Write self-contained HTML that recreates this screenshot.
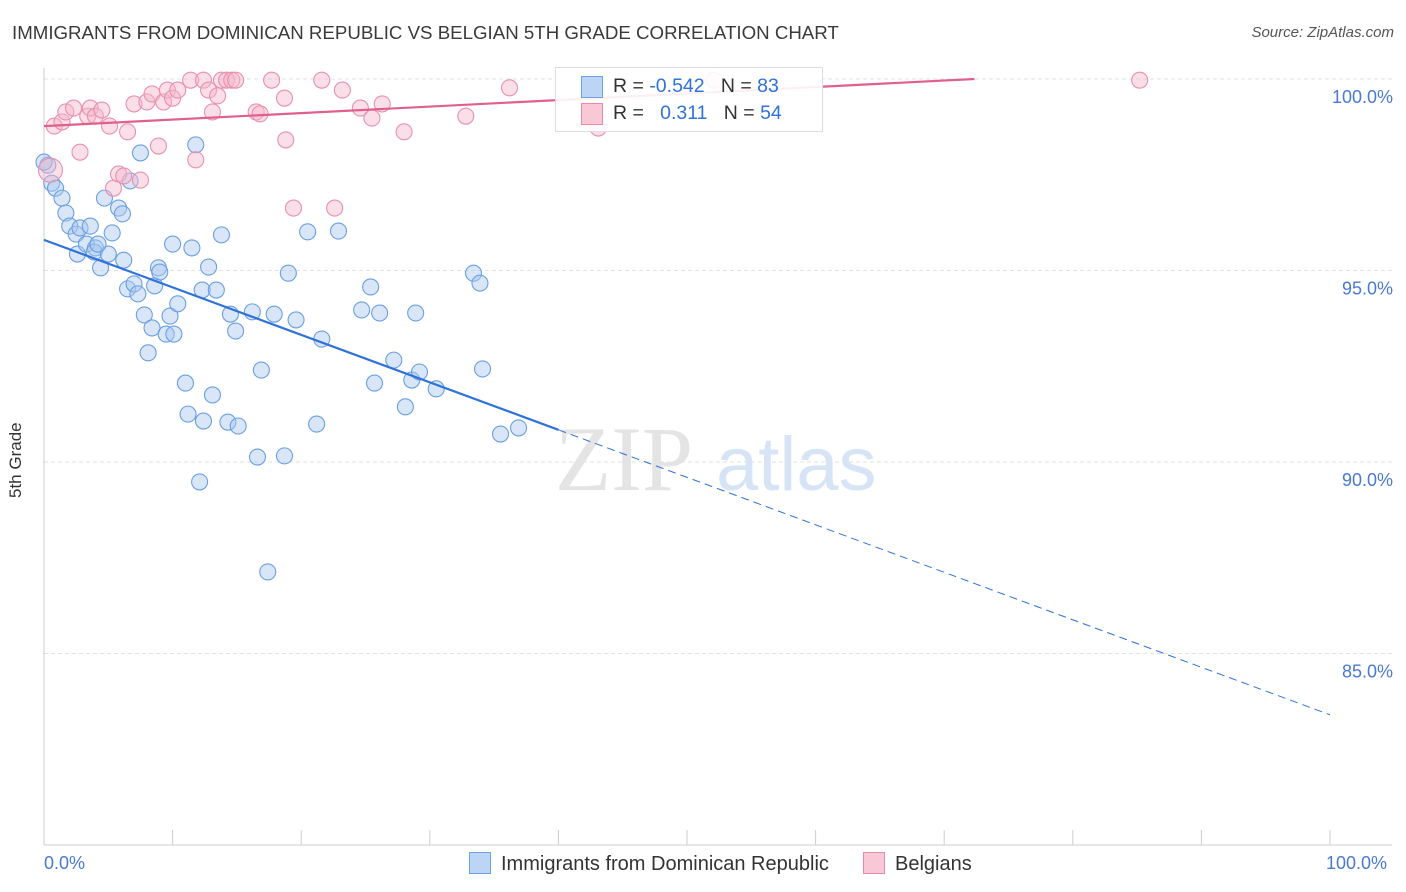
<!DOCTYPE html>
<html><head><meta charset="utf-8"><style>
body{margin:0;background:#fff;font-family:"Liberation Sans",sans-serif}
#c{position:relative;width:1406px;height:892px;overflow:hidden}
.t{position:absolute;white-space:nowrap}
</style></head><body>
<div id="c">
<div class="t" style="left:12px;top:22px;font-size:18.7px;color:#3a3a3a">IMMIGRANTS FROM DOMINICAN REPUBLIC VS BELGIAN 5TH GRADE CORRELATION CHART</div>
<div class="t" style="right:12px;top:24px;font-size:15px;color:#555;font-style:italic">Source: ZipAtlas.com</div>
<div class="t" style="left:6px;font-size:17px;color:#333;transform:rotate(-90deg);transform-origin:0 0;top:498px">5th Grade</div>
<svg id="s" width="1406" height="892" style="position:absolute;left:0;top:0"></svg>
</div>
<script>
const blueX=[0.3,0.6,0.9,1.4,1.7,2.0,2.5,2.8,2.6,3.3,3.6,4.0,3.9,4.4,4.7,5.0,5.3,5.8,6.1,6.2,6.5,6.7,7.0,7.3,7.5,7.8,8.1,8.4,8.6,8.9,9.0,9.5,9.8,10.0,10.1,10.4,11.0,11.2,11.5,11.8,12.1,12.3,12.4,12.8,13.1,13.4,13.8,14.3,14.5,14.9,15.1,16.2,16.6,16.9,17.4,17.9,18.7,19.0,19.6,20.5,21.2,21.6,22.9,24.7,25.4,25.7,26.1,27.2,28.1,28.6,28.9,29.2,30.5,33.4,33.9,34.1,35.5,36.9,0,4.2];
const blueY=[97.75,97.28,97.15,96.89,96.5,96.16,95.95,96.11,95.43,95.69,96.16,95.59,95.48,95.07,96.89,95.43,95.98,96.63,96.48,95.27,94.52,97.34,94.65,94.39,98.07,93.84,92.85,93.5,94.6,95.07,94.96,93.34,93.81,95.69,93.34,94.13,92.06,91.25,95.59,98.28,89.48,94.49,91.07,95.09,91.75,94.49,95.93,91.04,93.86,93.42,90.94,93.92,90.13,92.4,87.13,93.86,90.16,94.93,93.71,96.01,90.99,93.21,96.03,93.97,94.57,92.06,93.89,92.66,91.44,92.14,93.89,92.35,91.91,94.93,94.67,92.43,90.73,90.89,97.83,95.69];
const pinkX=[0.5,0.8,1.4,1.7,2.3,2.8,3.4,3.6,4.0,4.5,5.1,5.4,5.8,6.2,6.5,7.0,7.5,8.0,8.4,8.9,9.3,9.6,10.0,10.4,11.4,11.8,12.4,12.8,13.1,13.5,13.8,14.2,14.6,14.9,16.5,16.8,17.7,18.8,18.7,19.4,21.6,22.6,23.2,24.6,25.5,26.3,28.0,32.8,36.2,43.1,52.1,85.2];
const pinkY=[97.62,98.77,98.88,99.14,99.24,98.09,99.03,99.24,99.03,99.19,98.77,97.15,97.52,97.47,98.62,99.35,97.36,99.4,99.61,98.25,99.4,99.71,99.5,99.71,99.97,97.89,99.97,99.71,99.14,99.56,99.97,99.97,99.97,99.97,99.14,99.09,99.97,98.41,99.5,96.63,99.97,96.63,99.71,99.24,98.98,99.35,98.62,99.03,99.77,98.72,99.97,99.97];
const yTicks=[100,95,90,85];
const yTickLabels=["100.0%","95.0%","90.0%","85.0%"];
const blueTrend=[95.8,83.4];
const pinkTrend=[98.77,100.47];

const sx=v=>44+v*12.86, sy=v=>79+(100-v)*38.3;
const s=document.getElementById('s'),NS='http://www.w3.org/2000/svg';
function mk(t,a,p){const e=document.createElementNS(NS,t);for(const k in a)e.setAttribute(k,a[k]);(p||s).appendChild(e);return e;}
yTicks.forEach((v,i)=>{
 const g=mk('line',{x1:44,x2:1392,y1:sy(v),y2:sy(v),stroke:'#e2e2e2','stroke-dasharray':'4,3'});
 
 
 const t=mk('text',{x:1393,y:sy(v)+24,'text-anchor':'end','font-size':18,fill:'#4a7ad0','font-family':'Liberation Sans'});
 t.textContent=yTickLabels[i];
 
 
});
const ya=mk('line',{x1:44,x2:44,y1:68,y2:845,stroke:'#ccc'});
const xa=mk('line',{x1:44,x2:1392,y1:845,y2:845,stroke:'#ccc'});
for(let i=0;i<=10;i++){const tk=mk('line',{x1:sx(i*10),x2:sx(i*10),y1:830,y2:845,stroke:'#ccc'});}
const w=mk('text',{x:555,y:490,'font-size':92,fill:'#e4e4e4','font-family':'Liberation Serif'});w.textContent='ZIP';
const w2=mk('text',{x:716,y:490,'font-size':76,fill:'#d6e4f5','font-family':'Liberation Sans'});w2.textContent='atlas';
function pts(X,Y,f,st,nm){X.forEach((x,i)=>{const c=mk('circle',{cx:sx(x),cy:sy(Y[i]),r:(nm=='pink-point'&&i==0)?12:8,fill:f,'fill-opacity':0.45,stroke:st,'stroke-width':1.1});});}
pts(blueX,blueY,'#a9c8f0','#6a9fe2','blue-point');
pts(pinkX,pinkY,'#f5b8cb','#e890ad','pink-point');
const bAt=x=>blueTrend[0]+(blueTrend[1]-blueTrend[0])*x/100;
const b1=mk('line',{x1:sx(0),y1:sy(bAt(0)),x2:sx(40),y2:sy(bAt(40)),stroke:'#2f72d8','stroke-width':2.2});
const b2=mk('line',{x1:sx(40),y1:sy(bAt(40)),x2:sx(100),y2:sy(bAt(100)),stroke:'#2f72d8','stroke-width':1,'stroke-dasharray':'8,5'});
const pAt=x=>pinkTrend[0]+(pinkTrend[1]-pinkTrend[0])*x/100;
const xe=(100-pinkTrend[0])/(pinkTrend[1]-pinkTrend[0])*100;
const p1=mk('line',{x1:sx(0),y1:sy(pAt(0)),x2:sx(xe),y2:sy(100),stroke:'#e0608a','stroke-width':2.2});
</script>
<div class="t" style="left:555px;top:67px;width:266px;height:63px;border:1px solid #ddd;background:rgba(255,255,255,0.9);font-size:19.5px">
 <div class="t" style="left:25px;top:8px;width:20px;height:20px;background:#bcd5f5;border:1px solid #6fa0e0"></div>
 <div class="t" style="left:57px;top:7px;color:#333">R = <span style="color:#2f72d8">-0.542</span>&nbsp;&nbsp;&nbsp;N = <span style="color:#2f72d8">83</span></div>
 <div class="t" style="left:25px;top:35px;width:20px;height:20px;background:#f8c8d6;border:1px solid #e88aa8"></div>
 <div class="t" style="left:57px;top:34px;color:#333">R = &nbsp;&nbsp;<span style="color:#2f72d8">0.311</span>&nbsp;&nbsp;&nbsp;N = <span style="color:#2f72d8">54</span></div>
</div>
<div class="t" style="left:44px;top:853px;font-size:18px;color:#4a7ad0">0.0%</div>
<div class="t" style="left:1326px;top:853px;font-size:18px;color:#4a7ad0">100.0%</div>
<div class="t" style="left:469px;top:852px;font-size:20px;color:#333"><span style="display:inline-block;width:20px;height:20px;background:#bcd5f5;border:1px solid #6fa0e0;vertical-align:-4px;margin-right:10px"></span>Immigrants from Dominican Republic</div>
<div class="t" style="left:863px;top:852px;font-size:20px;color:#333"><span style="display:inline-block;width:20px;height:20px;background:#f8c8d6;border:1px solid #e88aa8;vertical-align:-4px;margin-right:10px"></span>Belgians</div>
</body></html>
